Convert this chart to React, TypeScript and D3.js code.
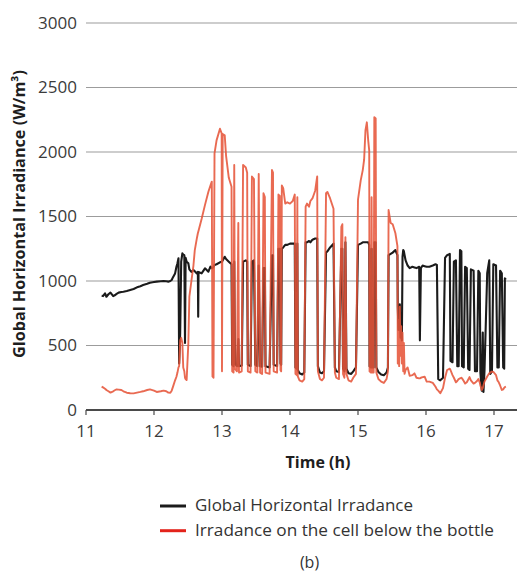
import React from 'react';
import * as d3 from 'd3';

const xTicks = [11, 12, 13, 14, 15, 16, 17];
const yTicks = [0, 500, 1000, 1500, 2000, 2500, 3000];
const legendLabels = ['Global Horizontal Irradance', 'Irradance on the cell below the bottle'];

// Global horizontal irradiance [hour, W/m²]
const ghiReadings: [number, number][] = [
  [11.23, 885], [11.25, 883], [11.28, 904], [11.30, 878], [11.33, 897], [11.36, 910], [11.40, 883], [11.43, 891],
  [11.45, 900], [11.48, 910], [11.52, 915], [11.55, 917], [11.60, 922], [11.65, 930], [11.70, 938], [11.75, 951],
  [11.80, 960], [11.84, 969], [11.90, 978], [11.94, 987], [12.00, 992], [12.04, 995], [12.10, 998], [12.14, 1000],
  [12.18, 998], [12.21, 995], [12.24, 1000], [12.26, 1008], [12.28, 1030], [12.31, 1059], [12.33, 1110], [12.345, 1137],
  [12.36, 1176], [12.37, 360], [12.385, 600], [12.40, 1150], [12.417, 1214], [12.43, 1205], [12.446, 1200], [12.456, 520],
  [12.465, 1180], [12.48, 1150], [12.505, 1137], [12.52, 1090], [12.55, 1070], [12.58, 1085], [12.60, 1075], [12.63, 1059],
  [12.645, 1070], [12.65, 723], [12.655, 1070], [12.70, 1059], [12.75, 1098], [12.80, 1072], [12.83, 1111], [12.85, 1100],
  [12.86, 1100], [12.875, 1110], [12.89, 1124], [12.92, 1130], [12.97, 1145], [12.995, 1150], [13.00, 1150], [13.01, 1160],
  [13.04, 1188], [13.06, 1170], [13.10, 1150], [13.14, 1130], [13.15, 350], [13.17, 340], [13.18, 1150], [13.19, 360],
  [13.22, 340], [13.24, 550], [13.25, 340], [13.29, 345], [13.31, 1150], [13.35, 1160], [13.37, 1150], [13.38, 350],
  [13.42, 340], [13.44, 1150], [13.47, 1160], [13.49, 350], [13.52, 340], [13.54, 1120], [13.56, 340], [13.59, 335],
  [13.61, 1100], [13.63, 1100], [13.64, 340], [13.70, 330], [13.735, 1200], [13.75, 1200], [13.76, 350], [13.81, 340],
  [13.83, 1250], [13.85, 1250], [13.86, 360], [13.87, 350], [13.88, 1250], [13.90, 1260], [13.93, 1280], [13.96, 1280],
  [14.00, 1290], [14.04, 1290], [14.07, 1290], [14.08, 330], [14.10, 320], [14.108, 1290], [14.115, 310], [14.14, 285],
  [14.18, 275], [14.21, 290], [14.23, 1300], [14.25, 1300], [14.28, 1310], [14.30, 1300], [14.33, 1320], [14.37, 1330],
  [14.40, 1330], [14.41, 340], [14.44, 290], [14.47, 285], [14.50, 300], [14.53, 1220], [14.55, 1230], [14.59, 1260],
  [14.64, 1290], [14.66, 330], [14.68, 300], [14.72, 295], [14.755, 1250], [14.77, 1250], [14.78, 320], [14.80, 300],
  [14.815, 1300], [14.83, 320], [14.86, 285], [14.90, 280], [14.93, 300], [14.97, 330], [15.00, 1280], [15.04, 1290],
  [15.07, 1300], [15.09, 1300], [15.11, 1300], [15.13, 1300], [15.15, 1300], [15.165, 1280], [15.17, 340], [15.19, 330],
  [15.20, 1250], [15.21, 330], [15.23, 330], [15.24, 1300], [15.26, 1300], [15.27, 330], [15.30, 295], [15.34, 275],
  [15.38, 270], [15.42, 290], [15.44, 330], [15.45, 1200], [15.48, 1210], [15.51, 1220], [15.55, 1240], [15.58, 1200],
  [15.585, 800], [15.595, 620], [15.605, 700], [15.615, 820], [15.625, 560], [15.635, 640], [15.645, 540], [15.655, 1190],
  [15.665, 1240], [15.675, 1230], [15.685, 1200], [15.70, 1160], [15.73, 1120], [15.76, 1100], [15.80, 1110], [15.83, 1105],
  [15.86, 1100], [15.90, 1110], [15.91, 540], [15.925, 1100], [15.95, 1120], [15.98, 1115], [16.01, 1110], [16.05, 1110],
  [16.10, 1120], [16.14, 1130], [16.16, 1125], [16.18, 240], [16.21, 230], [16.25, 250], [16.28, 1180], [16.31, 1200],
  [16.35, 1210], [16.36, 380], [16.39, 370], [16.41, 1150], [16.44, 1160], [16.46, 340], [16.48, 340], [16.50, 1240],
  [16.52, 1230], [16.53, 340], [16.555, 330], [16.575, 1110], [16.60, 1100], [16.62, 320], [16.64, 310], [16.66, 1090],
  [16.70, 1080], [16.72, 300], [16.75, 300], [16.77, 1080], [16.79, 1060], [16.80, 290], [16.82, 150], [16.835, 600],
  [16.845, 140], [16.86, 300], [16.90, 1060], [16.93, 1160], [16.945, 280], [16.97, 300], [16.99, 1130], [17.03, 1120],
  [17.05, 330], [17.07, 330], [17.09, 1080], [17.115, 1060], [17.135, 330], [17.15, 320], [17.16, 1020], [17.175, 1010],
];

// Irradiance on the cell below the bottle [hour, W/m²]
const cellReadings: [number, number][] = [
  [11.23, 181], [11.25, 175], [11.28, 165], [11.30, 155], [11.33, 145], [11.36, 135], [11.40, 145], [11.43, 155],
  [11.45, 160], [11.48, 158], [11.52, 155], [11.55, 145], [11.60, 134], [11.65, 130], [11.70, 129], [11.75, 135],
  [11.80, 140], [11.84, 145], [11.90, 155], [11.94, 160], [12.00, 150], [12.04, 140], [12.10, 145], [12.14, 150],
  [12.18, 145], [12.21, 135], [12.24, 134], [12.26, 150], [12.28, 181], [12.31, 230], [12.33, 258], [12.345, 290],
  [12.36, 330], [12.37, 340], [12.385, 540], [12.40, 560], [12.417, 520], [12.43, 330], [12.446, 300], [12.456, 250],
  [12.465, 240], [12.48, 232], [12.505, 517], [12.52, 878], [12.55, 1000], [12.58, 1120], [12.60, 1240], [12.63, 1330],
  [12.645, 1370], [12.65, 1380], [12.655, 1390], [12.70, 1480], [12.75, 1590], [12.80, 1692], [12.83, 1740], [12.85, 1770],
  [12.86, 260], [12.875, 250], [12.89, 1990], [12.92, 2090], [12.97, 2180], [12.995, 2145], [13.00, 300], [13.01, 2140],
  [13.04, 2130], [13.06, 1970], [13.10, 1800], [13.14, 1730], [13.15, 300], [13.17, 290], [13.18, 1900], [13.19, 320],
  [13.22, 300], [13.24, 1450], [13.25, 290], [13.29, 300], [13.31, 1900], [13.35, 1880], [13.37, 1840], [13.38, 300],
  [13.42, 290], [13.44, 1810], [13.47, 1790], [13.49, 300], [13.52, 290], [13.54, 1830], [13.56, 290], [13.59, 280],
  [13.61, 1680], [13.63, 1650], [13.64, 290], [13.70, 280], [13.735, 1860], [13.75, 1840], [13.76, 300], [13.81, 290],
  [13.83, 1670], [13.85, 1660], [13.86, 310], [13.87, 300], [13.88, 1740], [13.90, 1720], [13.93, 1600], [13.96, 1610],
  [14.00, 1600], [14.04, 1620], [14.07, 1670], [14.08, 280], [14.10, 270], [14.108, 1650], [14.115, 260], [14.14, 230],
  [14.18, 220], [14.21, 240], [14.23, 1576], [14.25, 1600], [14.28, 1576], [14.30, 1620], [14.33, 1640], [14.37, 1700],
  [14.40, 1810], [14.41, 300], [14.44, 240], [14.47, 230], [14.50, 250], [14.53, 1680], [14.55, 1690], [14.59, 1640],
  [14.64, 1560], [14.66, 290], [14.68, 250], [14.72, 240], [14.755, 1420], [14.77, 1440], [14.78, 280], [14.80, 250],
  [14.815, 1340], [14.83, 280], [14.86, 230], [14.90, 220], [14.93, 250], [14.97, 280], [15.00, 1630], [15.04, 1780],
  [15.07, 1860], [15.09, 1940], [15.11, 2170], [15.13, 2230], [15.15, 2090], [15.165, 2010], [15.17, 300], [15.19, 290],
  [15.20, 1650], [15.21, 290], [15.23, 290], [15.24, 2270], [15.26, 2260], [15.27, 290], [15.30, 240], [15.34, 220],
  [15.38, 210], [15.42, 240], [15.44, 300], [15.45, 1550], [15.48, 1450], [15.51, 1440], [15.55, 1370], [15.58, 1270],
  [15.585, 360], [15.595, 700], [15.605, 340], [15.615, 800], [15.625, 420], [15.635, 650], [15.645, 360], [15.655, 600],
  [15.665, 300], [15.675, 520], [15.685, 280], [15.70, 310], [15.73, 330], [15.76, 265], [15.80, 270], [15.83, 284],
  [15.86, 250], [15.90, 245], [15.91, 245], [15.925, 250], [15.95, 255], [15.98, 258], [16.01, 220], [16.05, 220],
  [16.10, 210], [16.14, 180], [16.16, 160], [16.18, 150], [16.21, 130], [16.25, 170], [16.28, 250], [16.31, 310],
  [16.35, 320], [16.36, 310], [16.39, 270], [16.41, 250], [16.44, 215], [16.46, 225], [16.48, 240], [16.50, 245],
  [16.52, 250], [16.53, 245], [16.555, 225], [16.575, 205], [16.60, 215], [16.62, 235], [16.64, 255], [16.66, 230],
  [16.70, 205], [16.72, 210], [16.75, 225], [16.77, 240], [16.79, 215], [16.80, 190], [16.82, 155], [16.835, 170],
  [16.845, 190], [16.86, 220], [16.90, 260], [16.93, 285], [16.945, 290], [16.97, 298], [16.99, 295], [17.03, 270],
  [17.05, 230], [17.07, 215], [17.09, 190], [17.115, 155], [17.135, 160], [17.15, 172], [17.16, 178], [17.175, 182],
];

export default function App() {
  const W = 517;
  const H = 574;
  const x = d3.scaleLinear().domain([11, 17]).range([86, 494]);
  const y = d3.scaleLinear().domain([0, 3000]).range([410, 23]);
  const line = d3
    .line<[number, number]>()
    .x((d) => x(d[0]))
    .y((d) => y(d[1]));
  const font = "'Open Sans', 'Noto Sans', sans-serif";
  const gridRight = 517;
  return (
    <svg
      width={W}
      height={H}
      viewBox={`0 0 ${W} ${H}`}
      style={{ position: 'absolute', left: 0, top: 0, background: '#fff' }}
      fontFamily={font}
    >
      <rect x={0} y={0} width={W} height={H} fill="#fff" />
      {yTicks
        .filter((t) => t > 0)
        .map((t) => (
          <line key={'g' + t} x1={x(11)} x2={gridRight} y1={y(t)} y2={y(t)} stroke="#9c9c9c" strokeWidth={1.2} />
        ))}
      <path d={line(ghiReadings) || ''} fill="none" stroke="#1b1b1b" strokeWidth={2.1} strokeLinejoin="round" />
      <path
        d={line(cellReadings) || ''}
        fill="none"
        stroke="#e6553a"
        strokeOpacity={0.88}
        strokeWidth={1.9}
        strokeLinejoin="round"
      />
      <line x1={x(11)} x2={gridRight} y1={y(0)} y2={y(0)} stroke="#4a4a4a" strokeWidth={2} />
      {xTicks.map((t) => (
        <g key={'x' + t}>
          <line x1={x(t)} x2={x(t)} y1={y(0)} y2={y(0) + 5} stroke="#4a4a4a" strokeWidth={1.2} />
          <text x={x(t)} y={437} textAnchor="middle" fontSize={17} fill="#3b3b3b">
            {t}
          </text>
        </g>
      ))}
      {yTicks.map((t) => (
        <text key={'y' + t} x={77} y={y(t)} dy="0.35em" textAnchor="end" fontSize={17} fill="#3b3b3b">
          {t}
        </text>
      ))}
      <text x={318} y={468} textAnchor="middle" fontSize={16} fontWeight="bold" fill="#1e1e1e">
        Time (h)
      </text>
      <text
        transform="translate(25,214) rotate(-90)"
        textAnchor="middle"
        fontSize={16}
        fontWeight="bold"
        fill="#1e1e1e"
        textLength={288}
        lengthAdjust="spacingAndGlyphs"
      >
        Global Horizontal Irradiance (W/m³)
      </text>
      <line x1={160} x2={186} y1={506} y2={506} stroke="#1b1b1b" strokeWidth={3} />
      <text x={195} y={510.7} fontSize={16.5} fill="#333" textLength={218} lengthAdjust="spacingAndGlyphs">
        {legendLabels[0]}
      </text>
      <line x1={160} x2={186} y1={530.7} y2={530.7} stroke="#e3231b" strokeWidth={3} />
      <text x={195} y={536} fontSize={16.5} fill="#333" textLength={299} lengthAdjust="spacingAndGlyphs">
        {legendLabels[1]}
      </text>
      <text x={309.5} y={568} textAnchor="middle" fontSize={16} fill="#333">
        (b)
      </text>
    </svg>
  );
}
